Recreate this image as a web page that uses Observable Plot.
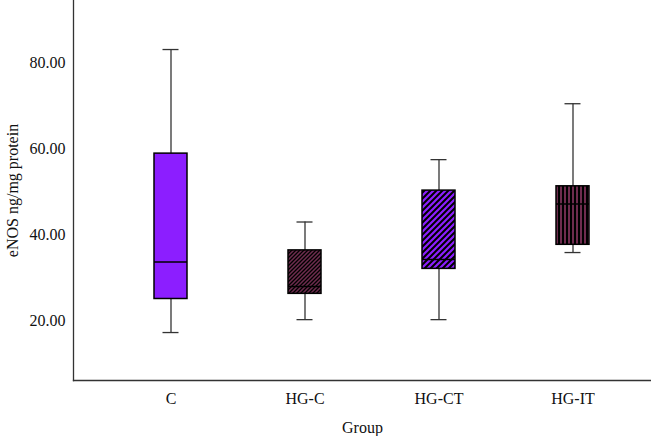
<!DOCTYPE html>
<html><head><meta charset="utf-8">
<script src="https://cdn.jsdelivr.net/npm/d3@7"></script>
<script src="https://cdn.jsdelivr.net/npm/@observablehq/plot@0.6"></script>
<style>body{margin:0;background:#fff}</style>
</head><body>
<svg width="0" height="0" style="position:absolute">
<defs>
  <pattern id="hatchHGC" patternUnits="userSpaceOnUse" width="4" height="4">
    <rect width="4" height="4" fill="#000"/>
    <path d="M-1,1 L1,-1 M0,4 L4,0 M3,5 L5,3" stroke="#6E2C4E" stroke-width="1.5"/>
  </pattern>
  <pattern id="hatchHGCT" patternUnits="userSpaceOnUse" width="6" height="6">
    <rect width="6" height="6" fill="#000"/>
    <path d="M-1.5,1.5 L1.5,-1.5 M0,6 L6,0 M4.5,7.5 L7.5,4.5" stroke="#8C1EFF" stroke-width="2.2"/>
  </pattern>
  <pattern id="stripeHGIT" patternUnits="userSpaceOnUse" width="4" height="4">
    <rect width="4" height="4" fill="#000"/>
    <rect x="0" width="2" height="4" fill="#6E2C4E"/>
  </pattern>
</defs>
</svg>
<div id="chart"></div>
<script>
const groups = ["C", "HG-C", "HG-CT", "HG-IT"];
const whiskerLow = [17.2, 20.2, 20.2, 35.8];
const q1 = [25.0, 26.2, 32.0, 37.6];
const median = [33.6, 27.9, 34.2, 47.1];
const q3 = [58.8, 36.3, 50.2, 51.2];
const whiskerHigh = [83.0, 42.9, 57.4, 70.4];
const fills = ["#8C1EFF", "url(#hatchHGC)", "url(#hatchHGCT)", "url(#stripeHGIT)"];
const yTicks = [20, 40, 60, 80];

const data = groups.map((g, i) => ({group: g, lo: whiskerLow[i], q1: q1[i], med: median[i], q3: q3[i], hi: whiskerHigh[i]}));

const chart = Plot.plot({
  width: 651,
  height: 436,
  marginTop: 0,
  marginBottom: 56,
  marginLeft: 73,
  marginRight: 0,
  style: {fontFamily: "'Liberation Serif', serif", fontSize: "16px", background: "#fff", color: "#111"},
  x: {domain: groups, paddingInner: 0.754, paddingOuter: 0.5285, align: 0.567, label: null},
  y: {domain: [6.05, 94.4], label: null},
  color: {domain: groups, range: fills},
  marks: [
    Plot.frame({anchor: "left", stroke: "#333", strokeWidth: 1.3}),
    Plot.frame({anchor: "bottom", stroke: "#333", strokeWidth: 1.3}),
    Plot.axisY({ticks: yTicks, tickFormat: d3.format(".2f"), tickSize: 0, tickPadding: 8, fontSize: 16,
      label: "eNOS ng/mg protein", labelArrow: false, labelAnchor: "center", labelOffset: 67}),
    Plot.axisX({tickSize: 0, tickPadding: 12, fontSize: 16, label: "Group", labelArrow: false, labelAnchor: "center", labelOffset: 52}),
    Plot.ruleX(data, {x: "group", y1: "lo", y2: "hi", stroke: "#333", strokeWidth: 1.3}),
    Plot.tickY(data, {x: "group", y: "lo", stroke: "#333", strokeWidth: 1.3, insetLeft: 8.5, insetRight: 8.5}),
    Plot.tickY(data, {x: "group", y: "hi", stroke: "#333", strokeWidth: 1.3, insetLeft: 8.5, insetRight: 8.5}),
    Plot.barY(data, {x: "group", y1: "q1", y2: "q3", fill: "group", stroke: "#000", strokeWidth: 1.5}),
    Plot.tickY(data, {x: "group", y: "med", stroke: "#000", strokeWidth: 1.5})
  ]
});
document.getElementById("chart").appendChild(chart);
</script>
</body></html>
